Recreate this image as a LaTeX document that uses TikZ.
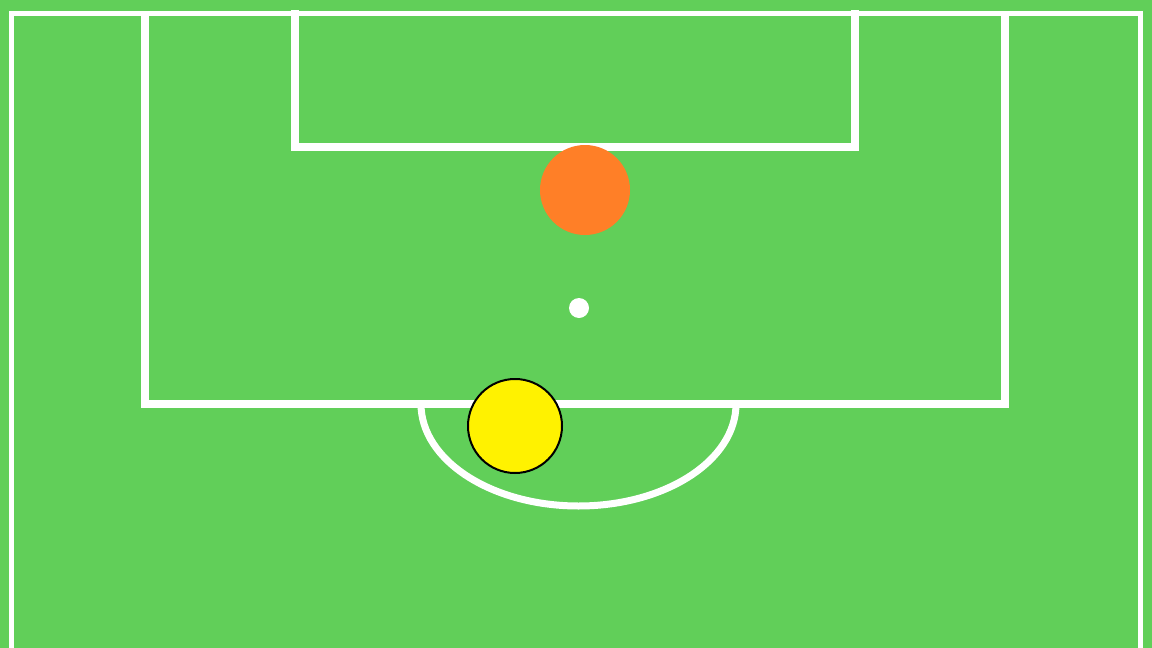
\documentclass[tikz,border=0pt]{standalone}
\usepackage{tikz}
\definecolor{pitch}{HTML}{61CF59}
\definecolor{ballorange}{HTML}{FF7F27}
\definecolor{ballyellow}{HTML}{FFF200}
\begin{document}
\begin{tikzpicture}[x=1pt,y=-1pt,
  pline/.style={draw=white,line cap=butt,line join=miter},
  disc/.style={circle,inner sep=0pt,minimum size=#1}]
\fill[pitch] (0,0) rectangle (1152,648);
\useasboundingbox (0,0) rectangle (1152,648);
% outer touch lines
\draw[pline,line width=5pt] (11.5,660) -- (11.5,13.5) -- (1140,13.5) -- (1140,660);
% penalty box
\draw[pline,line width=7.5pt] (145,13.5) -- (145,404) -- (1005,404) -- (1005,13.5);
% goal area
\draw[pline,line width=8pt] (295,10) -- (295,147) -- (855,147) -- (855,10);
% penalty arc (half ellipse)
\draw[pline,line width=7pt] (421,404) arc[start angle=180,end angle=360,x radius=157.5,y radius=-102];
% penalty spot
\node[disc=20pt,fill=white] (spot) at (579,308) {};
% players / balls
\node[disc=90pt,fill=ballorange] (orange) at (585,190) {};
\node[disc=94pt,fill=ballyellow,draw=black,line width=2pt] (yellow) at (515,426) {};
\end{tikzpicture}
\end{document}
